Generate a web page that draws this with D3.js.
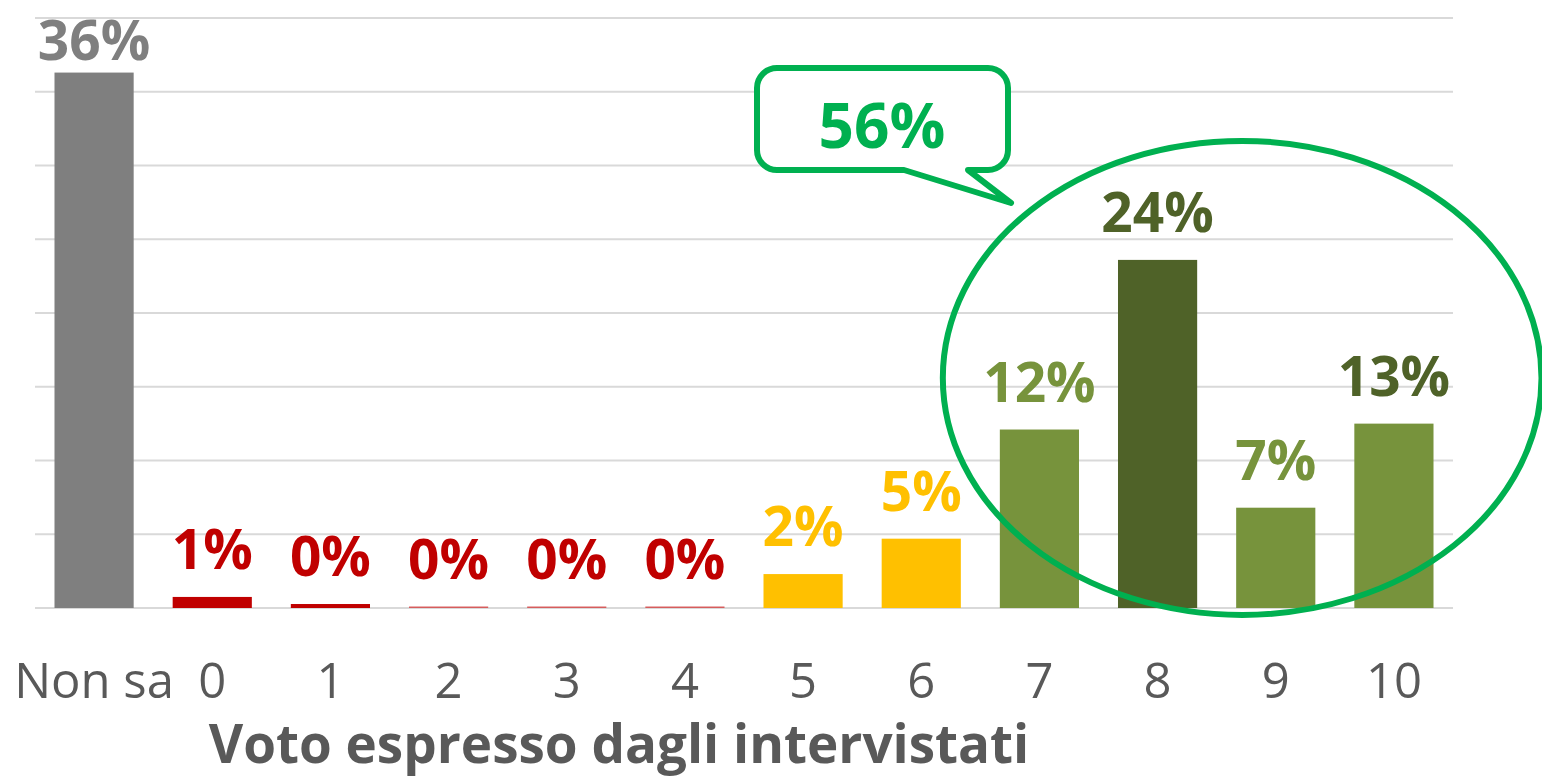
<!DOCTYPE html>
<html>
<head>
<meta charset="utf-8">
<script src="https://cdn.jsdelivr.net/npm/d3@7"></script>
<style>
  body { margin: 0; background: #fff; }
  svg { display: block; font-family: "Open Sans", sans-serif; }
</style>
</head>
<body>
<figure id="vote-bar" style="margin:0"></figure>
<script>
// data
const categories = ['Non sa', '0', '1', '2', '3', '4', '5', '6', '7', '8', '9', '10'];
const values = [36.3, 0.75, 0.27, 0.1, 0.1, 0.1, 2.3, 4.7, 12.1, 23.6, 6.8, 12.5];
const labels = ['36%', '1%', '0%', '0%', '0%', '0%', '2%', '5%', '12%', '24%', '7%', '13%'];
const barColors = ['#7f7f7f', '#c00000', '#c00000', '#d65c5c', '#d65c5c', '#d65c5c',
  '#ffc000', '#ffc000', '#77933c', '#4f6228', '#77933c', '#77933c'];
const labelColors = ['#7f7f7f', '#c00000', '#c00000', '#c00000', '#c00000', '#c00000',
  '#ffc000', '#ffc000', '#77933c', '#4f6228', '#77933c', '#4f6228'];
const gridTicks = [0, 5, 10, 15, 20, 25, 30, 35, 40];
const calloutText = '56%';
const axisTitle = 'Voto espresso dagli intervistati';

const width = 1542, height = 777;
const margin = { top: 18, right: 89, bottom: 169, left: 35 };

const svg = d3.select('figure#vote-bar')
  .append('svg')
  .attr('width', width)
  .attr('height', height);

const x = d3.scaleBand()
  .domain(categories)
  .range([margin.left, width - margin.right])
  .paddingInner(0.33)
  .paddingOuter(0.165);

const y = d3.scaleLinear()
  .domain([0, 40])
  .range([height - margin.bottom, margin.top]);

// gridlines
svg.append('g')
  .selectAll('line')
  .data(gridTicks)
  .enter()
  .append('line')
  .attr('x1', margin.left)
  .attr('x2', width - margin.right)
  .attr('y1', d => y(d))
  .attr('y2', d => y(d))
  .attr('stroke', '#d9d9d9')
  .attr('stroke-width', 2);

// bars
svg.append('g')
  .selectAll('rect')
  .data(categories)
  .enter()
  .append('rect')
  .attr('x', d => x(d))
  .attr('y', (d, i) => y(values[i]))
  .attr('width', x.bandwidth())
  .attr('height', (d, i) => y(0) - y(values[i]))
  .attr('fill', (d, i) => barColors[i]);

// value labels
svg.append('g')
  .selectAll('text')
  .data(categories)
  .enter()
  .append('text')
  .attr('x', d => x(d) + x.bandwidth() / 2)
  .attr('y', (d, i) => Math.max(y(values[i]) - 28, 60))
  .attr('text-anchor', 'middle')
  .attr('font-size', 55)
  .attr('font-weight', 'bold')
  .attr('fill', (d, i) => labelColors[i])
  .text((d, i) => labels[i]);

// x axis labels
const xAxis = svg.append('g')
  .attr('transform', `translate(0,${y(0)})`)
  .call(d3.axisBottom(x).tickSize(0).tickPadding(55));
xAxis.select('.domain').remove();
xAxis.selectAll('text')
  .attr('font-family', '"Liberation Sans Narrow", "Open Sans", sans-serif')
  .attr('font-size', 49)
  .attr('fill', '#595959');

svg.append('text')
  .attr('x', 619)
  .attr('y', 763)
  .attr('text-anchor', 'middle')
  .attr('font-size', 53)
  .attr('font-weight', 'bold')
  .attr('fill', '#595959')
  .text(axisTitle);

// annotation: ellipse round the 7-10 bars and the callout bubble
const green = '#00b050';
const ex0 = x('7') - 57, ex1 = x('10') + x.bandwidth() + 108;
svg.append('ellipse')
  .attr('cx', (ex0 + ex1) / 2)
  .attr('cy', y(15.6))
  .attr('rx', (ex1 - ex0) / 2)
  .attr('ry', 237)
  .attr('fill', 'none')
  .attr('stroke', green)
  .attr('stroke-width', 6);

const bx0 = 757, bx1 = 1008, by0 = 68, by1 = 170, r = 20;
const bubble = d3.path();
bubble.moveTo(bx0 + r, by0);
bubble.lineTo(bx1 - r, by0);
bubble.arcTo(bx1, by0, bx1, by0 + r, r);
bubble.lineTo(bx1, by1 - r);
bubble.arcTo(bx1, by1, bx1 - r, by1, r);
bubble.lineTo(968, by1);
bubble.lineTo(1011, 203);
bubble.lineTo(904, by1);
bubble.lineTo(bx0 + r, by1);
bubble.arcTo(bx0, by1, bx0, by1 - r, r);
bubble.lineTo(bx0, by0 + r);
bubble.arcTo(bx0, by0, bx0 + r, by0, r);
bubble.closePath();

svg.append('path')
  .attr('d', bubble.toString())
  .attr('fill', '#fff')
  .attr('stroke', green)
  .attr('stroke-width', 6)
  .attr('stroke-linejoin', 'round');

svg.append('text')
  .attr('x', 882)
  .attr('y', 148)
  .attr('text-anchor', 'middle')
  .attr('font-size', 62)
  .attr('font-weight', 'bold')
  .attr('fill', green)
  .text(calloutText);
</script>
</body>
</html>
